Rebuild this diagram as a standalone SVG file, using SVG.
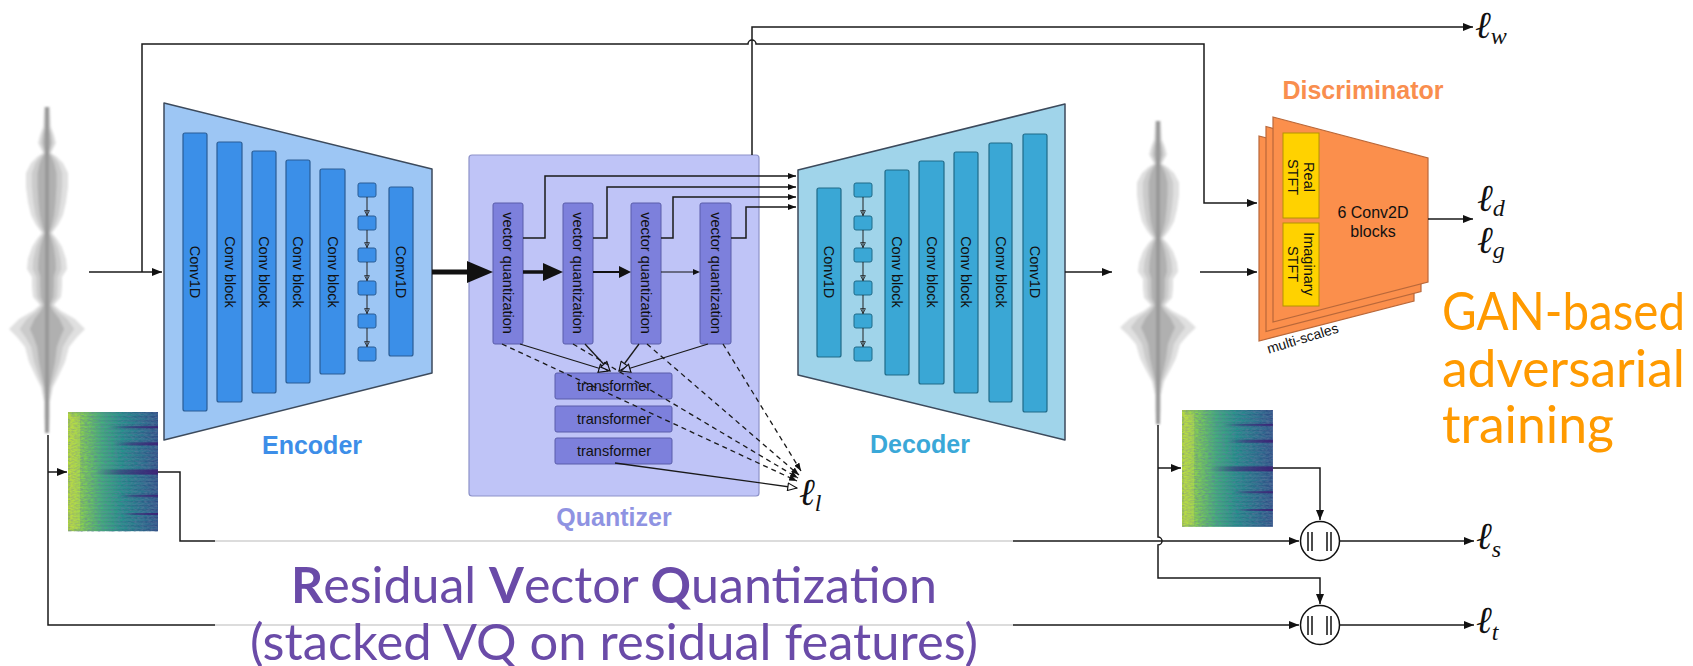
<svg xmlns="http://www.w3.org/2000/svg" width="1693" height="666" viewBox="0 0 1693 666">
<style>
  .sans{font-family:"Liberation Sans",Arial,sans-serif;fill:#111;}
  .blk{font-size:14.5px;}
  .wire{fill:none;stroke:#1a1a1a;stroke-width:1.5;}
  .thin{fill:none;stroke:#1a1a1a;stroke-width:1.3;}
  .hair{fill:none;stroke:#222;stroke-width:1;}
  .dash{fill:none;stroke:#1a1a1a;stroke-width:1.3;stroke-dasharray:5 4;}
  .enc-bar{fill:#3b8fe8;stroke:#2a5d95;stroke-width:1.2;}
  .dec-bar{fill:#3aa7d5;stroke:#1f6a88;stroke-width:1.2;}
  .vq{fill:#7d80dc;stroke:#5a5daa;stroke-width:1;}
  .sq-enc{fill:#3b8fe8;stroke:#2a5d95;stroke-width:1;}
  .sq-dec{fill:#3aa7d5;stroke:#1f6a88;stroke-width:1;}
  .math{font-family:"Liberation Serif","DejaVu Serif",serif;font-style:italic;fill:#111;}
  .ell{font-size:38px;}
  .sub{font-size:24px;}
  .title{font-family:"Liberation Sans",Arial,sans-serif;font-weight:bold;font-size:25px;}
  .slide{font-family:Lato,"Open Sans",sans-serif;}
</style>
<defs>
  <marker id="ah" viewBox="0 0 10 10" refX="10" refY="5" markerWidth="10" markerHeight="8" markerUnits="userSpaceOnUse" orient="auto" preserveAspectRatio="none">
    <path d="M0,0 L10,5 L0,10 Z" fill="#111"/>
  </marker>
  <marker id="ahs" viewBox="0 0 10 10" refX="10" refY="5" markerWidth="8" markerHeight="6" markerUnits="userSpaceOnUse" orient="auto" preserveAspectRatio="none">
    <path d="M0,0 L10,5 L0,10 Z" fill="#111"/>
  </marker>
  <marker id="hollowQ" viewBox="0 0 12 12" refX="11" refY="6" markerWidth="11" markerHeight="10" markerUnits="userSpaceOnUse" orient="auto" preserveAspectRatio="none">
    <path d="M1,1 L11,6 L1,11 Z" fill="#bfc4f7" stroke="#111" stroke-width="1.3"/>
  </marker>
  <marker id="hollowW" viewBox="0 0 12 12" refX="11" refY="6" markerWidth="11" markerHeight="9" markerUnits="userSpaceOnUse" orient="auto" preserveAspectRatio="none">
    <path d="M1,1 L11,6 L1,11 Z" fill="#fff" stroke="#111" stroke-width="1.3"/>
  </marker>
  <marker id="tiny" viewBox="0 0 10 10" refX="10" refY="5" markerWidth="6" markerHeight="6" markerUnits="userSpaceOnUse" orient="auto" preserveAspectRatio="none">
    <path d="M1,1 L9,5 L1,9 Z" fill="none" stroke="#222" stroke-width="1.4"/>
  </marker>

  <filter id="soft" x="-20%" y="-5%" width="140%" height="110%">
    <feGaussianBlur stdDeviation="0.9"/>
  </filter>
  <filter id="grain" x="0" y="0" width="100%" height="100%">
    <feTurbulence type="fractalNoise" baseFrequency="0.3 0.7" numOctaves="2" seed="5"/>
    <feColorMatrix type="matrix" values="0 0 0 0 0.12  0 0 0 0 0.2  0 0 0 0 0.35  0 0 0 1.1 -0.35"/>
  </filter>

  <!-- audio waveform envelope, centred on x=0, starting at y=0 -->
  <path id="env" d="M3,0 L4,20 L7,28 L9,36 L6,42 L4,46 L10,50 L16,56 L21,66 L21,80 L19,95 L16,108 L11,118 L5,126 L10,132 L15,140 L19,152 L20,162 L15,170 L15,180 L14,190 L7,198 L14,204 L28,212 L38,222 L30,230 L22,240 L18,255 L12,268 L6,280 L3,295 L3,310 L2,326 L-2,326 L-3,310 L-3,295 L-6,280 L-12,268 L-18,255 L-22,240 L-30,230 L-38,222 L-28,212 L-14,204 L-7,198 L-14,190 L-15,180 L-15,170 L-20,162 L-19,152 L-15,140 L-10,132 L-5,126 L-11,118 L-16,108 L-19,95 L-21,80 L-21,66 L-16,56 L-10,50 L-4,46 L-6,42 L-9,36 L-7,28 L-4,20 L-3,0 Z"/>
  <g id="wave" filter="url(#soft)">
    <use href="#env" fill="#e0e0e0"/>
    <use href="#env" fill="#cbcbcb" transform="scale(0.72,1)"/>
    <use href="#env" fill="#b0b0b0" transform="scale(0.45,1)"/>
    <rect x="-2" y="0" width="4" height="326" fill="#999"/>
  </g>

  <!-- spectrogram tile, 90 x 118 -->
  <linearGradient id="specGrad" x1="0" y1="0" x2="1" y2="0">
    <stop offset="0" stop-color="#b9dc3c"/>
    <stop offset="0.18" stop-color="#7fcf55"/>
    <stop offset="0.38" stop-color="#42b07c"/>
    <stop offset="0.6" stop-color="#24928b"/>
    <stop offset="0.82" stop-color="#2a738e"/>
    <stop offset="1" stop-color="#33588c"/>
  </linearGradient>
  <linearGradient id="stripeGrad" x1="0" y1="0" x2="1" y2="0">
    <stop offset="0" stop-color="#2a1f6a" stop-opacity="0.03"/>
    <stop offset="0.5" stop-color="#2a1f6a" stop-opacity="0.12"/>
    <stop offset="1" stop-color="#2a1f6a" stop-opacity="0.25"/>
  </linearGradient>
  <linearGradient id="bandGrad" x1="0" y1="0" x2="1" y2="0">
    <stop offset="0" stop-color="#3b1c72" stop-opacity="0"/>
    <stop offset="0.4" stop-color="#3b1c72" stop-opacity="0.5"/>
    <stop offset="1" stop-color="#3b1c72" stop-opacity="0.85"/>
  </linearGradient>
  <pattern id="specLines" patternUnits="userSpaceOnUse" width="90" height="4">
    <rect x="0" y="0" width="90" height="1.5" fill="url(#stripeGrad)"/>
  </pattern>
  <g id="spec">
    <rect x="0" y="0" width="90" height="118" fill="url(#specGrad)"/>
    <rect x="0" y="0" width="90" height="118" fill="url(#specLines)"/>
    <rect x="0" y="0" width="90" height="118" filter="url(#grain)"/>
    <rect x="2" y="4" width="10" height="112" fill="#d8e84a" opacity="0.3"/>
    <rect x="40" y="14" width="50" height="2" fill="url(#bandGrad)"/>
    <rect x="45" y="30" width="45" height="3" fill="url(#bandGrad)"/>
    <rect x="28" y="57" width="62" height="5" fill="url(#bandGrad)"/>
    <rect x="50" y="82" width="40" height="2" fill="url(#bandGrad)"/>
    <rect x="55" y="100" width="35" height="2" fill="url(#bandGrad)"/>
  </g>

  <!-- one discriminator layer -->
  <path id="discLayer" d="M1273,117 L1428,158 L1428,282 L1273,322 Z"/>
</defs>

<rect width="1693" height="666" fill="#fff"/>

<!-- input / output waveforms -->
<g id="wave-in"><use href="#wave" transform="translate(47,107)"/></g>
<g id="wave-out"><use href="#wave" transform="translate(1158,121) scale(1,0.93)"/></g>

<!-- spectrograms -->
<g id="spec-in"><use href="#spec" transform="translate(68,412) scale(1,1.01)"/></g>
<g id="spec-out"><use href="#spec" transform="translate(1182,410) scale(1.01,0.99)"/></g>

<!-- Encoder -->
<g id="encoder">
  <path d="M164,103 L432,169 L432,373 L164,440 Z" fill="#9dc6f4" stroke="#3c4a5c" stroke-width="1.5" stroke-linejoin="round"/>
  <rect class="enc-bar" x="183" y="133" width="24" height="278" rx="2"/>
  <rect class="enc-bar" x="217" y="142" width="25" height="260" rx="2"/>
  <rect class="enc-bar" x="252" y="151" width="24" height="242" rx="2"/>
  <rect class="enc-bar" x="286" y="160" width="24" height="223" rx="2"/>
  <rect class="enc-bar" x="320" y="169" width="25" height="205" rx="2"/>
  <rect class="enc-bar" x="389" y="187" width="24" height="169" rx="2"/>
  <g>
    <rect class="sq-enc" x="358" y="183" width="18" height="14" rx="2"/>
    <rect class="sq-enc" x="358" y="216" width="18" height="14" rx="2"/>
    <rect class="sq-enc" x="358" y="248" width="18" height="14" rx="2"/>
    <rect class="sq-enc" x="358" y="281" width="18" height="14" rx="2"/>
    <rect class="sq-enc" x="358" y="314" width="18" height="14" rx="2"/>
    <rect class="sq-enc" x="358" y="347" width="18" height="14" rx="2"/>
    <path class="hair" d="M367,197 V216" marker-end="url(#tiny)"/>
    <path class="hair" d="M367,230 V248" marker-end="url(#tiny)"/>
    <path class="hair" d="M367,262 V281" marker-end="url(#tiny)"/>
    <path class="hair" d="M367,295 V314" marker-end="url(#tiny)"/>
    <path class="hair" d="M367,328 V347" marker-end="url(#tiny)"/>
  </g>
  <g class="sans blk" text-anchor="middle" dominant-baseline="central">
    <text transform="translate(195,272) rotate(90)">Conv1D</text>
    <text transform="translate(229.5,272) rotate(90)">Conv block</text>
    <text transform="translate(264,272) rotate(90)">Conv block</text>
    <text transform="translate(298,272) rotate(90)">Conv block</text>
    <text transform="translate(332.5,272) rotate(90)">Conv block</text>
    <text transform="translate(401,272) rotate(90)">Conv1D</text>
  </g>
  <text class="title" x="312" y="454" text-anchor="middle" fill="#3d8ee8">Encoder</text>
</g>

<!-- Quantizer -->
<g id="quantizer">
  <rect x="469" y="155" width="290" height="341" rx="3" fill="#bfc4f7" stroke="#8d92c9" stroke-width="1.2"/>
  <rect class="vq" x="493" y="203" width="30" height="141" rx="2"/>
  <rect class="vq" x="563" y="203" width="30" height="141" rx="2"/>
  <rect class="vq" x="631" y="203" width="30" height="141" rx="2"/>
  <rect class="vq" x="700" y="203" width="31" height="141" rx="2"/>
  <g class="sans blk" text-anchor="middle" dominant-baseline="central">
    <text transform="translate(508,273) rotate(90)">vector quantization</text>
    <text transform="translate(578,273) rotate(90)">vector quantization</text>
    <text transform="translate(646,273) rotate(90)">vector quantization</text>
    <text transform="translate(715.5,273) rotate(90)">vector quantization</text>
  </g>
  <rect class="vq" x="555" y="373" width="117" height="26" rx="2"/>
  <rect class="vq" x="555" y="406" width="117" height="26" rx="2"/>
  <rect class="vq" x="555" y="438" width="117" height="26" rx="2"/>
  <g class="sans blk" text-anchor="middle">
    <text x="614" y="391">transformer</text>
    <text x="614" y="424">transformer</text>
    <text x="614" y="456">transformer</text>
  </g>
  <text class="title" x="614" y="526" text-anchor="middle" fill="#8f93e2">Quantizer</text>
</g>

<!-- Decoder -->
<g id="decoder">
  <path d="M798,170 L1065,104 L1065,440 L798,375 Z" fill="#a0d4ea" stroke="#3c4a5c" stroke-width="1.5" stroke-linejoin="round"/>
  <rect class="dec-bar" x="817" y="188" width="24" height="169" rx="2"/>
  <rect class="dec-bar" x="885" y="170" width="24" height="205" rx="2"/>
  <rect class="dec-bar" x="919" y="161" width="25" height="223" rx="2"/>
  <rect class="dec-bar" x="954" y="152" width="24" height="241" rx="2"/>
  <rect class="dec-bar" x="989" y="143" width="23" height="259" rx="2"/>
  <rect class="dec-bar" x="1023" y="134" width="24" height="278" rx="2"/>
  <g>
    <rect class="sq-dec" x="854" y="183" width="18" height="14" rx="2"/>
    <rect class="sq-dec" x="854" y="216" width="18" height="14" rx="2"/>
    <rect class="sq-dec" x="854" y="248" width="18" height="14" rx="2"/>
    <rect class="sq-dec" x="854" y="281" width="18" height="14" rx="2"/>
    <rect class="sq-dec" x="854" y="314" width="18" height="14" rx="2"/>
    <rect class="sq-dec" x="854" y="347" width="18" height="14" rx="2"/>
    <path class="hair" d="M863,197 V216" marker-end="url(#tiny)"/>
    <path class="hair" d="M863,230 V248" marker-end="url(#tiny)"/>
    <path class="hair" d="M863,262 V281" marker-end="url(#tiny)"/>
    <path class="hair" d="M863,295 V314" marker-end="url(#tiny)"/>
    <path class="hair" d="M863,328 V347" marker-end="url(#tiny)"/>
  </g>
  <g class="sans blk" text-anchor="middle" dominant-baseline="central">
    <text transform="translate(829,272) rotate(90)">Conv1D</text>
    <text transform="translate(897,272) rotate(90)">Conv block</text>
    <text transform="translate(931.5,272) rotate(90)">Conv block</text>
    <text transform="translate(966,272) rotate(90)">Conv block</text>
    <text transform="translate(1000.5,272) rotate(90)">Conv block</text>
    <text transform="translate(1035,272) rotate(90)">Conv1D</text>
  </g>
  <text class="title" x="920" y="453" text-anchor="middle" fill="#3aa8d8">Decoder</text>
</g>

<!-- Discriminator -->
<g id="discriminator">
  <use href="#discLayer" transform="translate(-14,19)" fill="#fb8f4c" stroke="#b9683a" stroke-width="1.2"/>
  <use href="#discLayer" transform="translate(-7,9.5)" fill="#fb8f4c" stroke="#b9683a" stroke-width="1.2"/>
  <use href="#discLayer" fill="#fb8f4c" stroke="#b9683a" stroke-width="1.2"/>
  <rect x="1283" y="133" width="36" height="85" fill="#ffd200" stroke="#b49400" stroke-width="1"/>
  <rect x="1283" y="223" width="36" height="83" fill="#ffd200" stroke="#b49400" stroke-width="1"/>
  <g class="sans" font-size="14.5" text-anchor="middle">
    <text transform="translate(1301,177) rotate(90)"><tspan x="0" y="-3">Real</tspan><tspan x="0" y="13">STFT</tspan></text>
    <text transform="translate(1301,264) rotate(90)"><tspan x="0" y="-3">Imaginary</tspan><tspan x="0" y="13">STFT</tspan></text>
    <text x="1373" y="218" font-size="16">6 Conv2D</text>
    <text x="1373" y="237" font-size="16">blocks</text>
    <text transform="translate(1304,343) rotate(-17)" font-size="14">multi-scales</text>
  </g>
  <text class="title" x="1363" y="99" text-anchor="middle" fill="#f98e4e">Discriminator</text>
</g>

<!-- comparison nodes -->
<g id="cmp-spec">
  <circle cx="1320" cy="541" r="19.5" fill="#fff" stroke="#111" stroke-width="1.5"/>
  <path d="M1308,532 V551 M1312,532 V551 M1327,532 V551 M1331,532 V551" stroke="#111" stroke-width="1.5"/>
</g>
<g id="cmp-time">
  <circle cx="1320" cy="625" r="19.5" fill="#fff" stroke="#111" stroke-width="1.5"/>
  <path d="M1308,616 V635 M1312,616 V635 M1327,616 V635 M1331,616 V635" stroke="#111" stroke-width="1.5"/>
</g>

<!-- connectors -->
<g id="connectors">
  <!-- input path into the encoder and skip to discriminator -->
  <path class="wire" d="M89,272 H162" marker-end="url(#ah)"/>
  <path class="wire" d="M142,272 V44 H748 A4,4 0 0 1 756,44 H1204 V203 H1257" marker-end="url(#ah)"/>
  <!-- quantizer to l_w -->
  <path class="wire" d="M752,155 V27 H1473" marker-end="url(#ah)"/>
  <!-- encoder to quantizer chain -->
  <line x1="432" y1="272" x2="470" y2="272" stroke="#111" stroke-width="5"/>
  <polygon points="467,261 493,272 467,283" fill="#111"/>
  <line x1="523" y1="272" x2="545" y2="272" stroke="#111" stroke-width="3.5"/>
  <polygon points="543,263 563,272 543,281" fill="#111"/>
  <line x1="593" y1="272" x2="620" y2="272" stroke="#111" stroke-width="2"/>
  <polygon points="619,266 631,272 619,278" fill="#111"/>
  <line x1="661" y1="272" x2="695" y2="272" stroke="#111" stroke-width="1"/>
  <polygon points="693,269 700,272 693,275" fill="#111"/>
  <!-- quantized codes to decoder -->
  <path class="wire" d="M523,238 H545 V176 H796" marker-end="url(#ahs)"/>
  <path class="wire" d="M593,238 H607 V187 H796" marker-end="url(#ahs)"/>
  <path class="wire" d="M661,238 H673 V197 H796" marker-end="url(#ahs)"/>
  <path class="wire" d="M731,238 H746 V207 H796" marker-end="url(#ahs)"/>
  <!-- codes to transformer -->
  <path class="thin" d="M520,344 L608,371" marker-end="url(#hollowQ)"/>
  <path class="thin" d="M585,344 L610,371" marker-end="url(#hollowQ)"/>
  <path class="thin" d="M639,344 L619,371" marker-end="url(#hollowQ)"/>
  <path class="thin" d="M708,344 L621,371" marker-end="url(#hollowQ)"/>
  <!-- codes and transformer to l_l -->
  <path class="dash" d="M502,344 L797,481" marker-end="url(#ahs)"/>
  <path class="dash" d="M573,344 L798,478" marker-end="url(#ahs)"/>
  <path class="dash" d="M647,344 L799,475" marker-end="url(#ahs)"/>
  <path class="dash" d="M723,344 L801,471" marker-end="url(#ahs)"/>
  <path class="thin" d="M615,463 L797,488" marker-end="url(#hollowW)"/>
  <!-- decoder output -->
  <path class="wire" d="M1065,272 H1112" marker-end="url(#ah)"/>
  <path class="wire" d="M1200,272 H1257" marker-end="url(#ah)"/>
  <!-- discriminator output -->
  <path class="wire" d="M1428,219 H1473" marker-end="url(#ah)"/>
  <!-- input waveform to spectrogram and time-domain loss -->
  <path class="wire" d="M48,435 V625 H1299" marker-end="url(#ah)"/>
  <path class="wire" d="M48,472 H67" marker-end="url(#ah)"/>
  <path class="wire" d="M158,472 H180 V541 H1299" marker-end="url(#ah)"/>
  <!-- output waveform branches -->
  <path class="wire" d="M1158,425 V537 A4,4 0 0 1 1158,545 V578 H1320 V604" marker-end="url(#ah)"/>
  <path class="wire" d="M1158,468 H1181" marker-end="url(#ah)"/>
  <path class="wire" d="M1273,468 H1320 V520" marker-end="url(#ah)"/>
  <!-- comparison outputs -->
  <path class="wire" d="M1340,541 H1474" marker-end="url(#ah)"/>
  <path class="wire" d="M1340,625 H1474" marker-end="url(#ah)"/>
</g>

<!-- loss labels -->
<g id="losses">
  <text class="math" x="1475" y="38"><tspan class="ell">ℓ</tspan><tspan class="sub" dy="6">w</tspan></text>
  <text class="math" x="1477" y="211"><tspan class="ell">ℓ</tspan><tspan class="sub" dy="5">d</tspan></text>
  <text class="math" x="1477" y="253"><tspan class="ell">ℓ</tspan><tspan class="sub" dy="5">g</tspan></text>
  <text class="math" x="799" y="505"><tspan class="ell">ℓ</tspan><tspan class="sub" dy="6">l</tspan></text>
  <text class="math" x="1476" y="549"><tspan class="ell">ℓ</tspan><tspan class="sub" dy="8">s</tspan></text>
  <text class="math" x="1476" y="633"><tspan class="ell">ℓ</tspan><tspan class="sub" dy="7">t</tspan></text>
</g>

<!-- slide annotations -->
<rect x="215" y="535" width="798" height="131" fill="#fff" opacity="0.8"/>
<g id="rvq-note" class="slide" fill="#6a4ba8" font-size="50" text-anchor="middle">
  <text x="614" y="603" textLength="646" lengthAdjust="spacingAndGlyphs"><tspan font-weight="bold">R</tspan>esidual <tspan font-weight="bold">V</tspan>ector <tspan font-weight="bold">Q</tspan>uantization</text>
  <text x="614" y="660" textLength="728" lengthAdjust="spacingAndGlyphs">(stacked VQ on residual features)</text>
</g>
<g id="gan-note" class="slide" fill="#ff9a00" font-size="53">
  <text x="1442" y="330" textLength="243" lengthAdjust="spacingAndGlyphs">GAN-based</text>
  <text x="1442" y="387" textLength="243" lengthAdjust="spacingAndGlyphs">adversarial</text>
  <text x="1442" y="443" textLength="172" lengthAdjust="spacingAndGlyphs">training</text>
</g>
</svg>
